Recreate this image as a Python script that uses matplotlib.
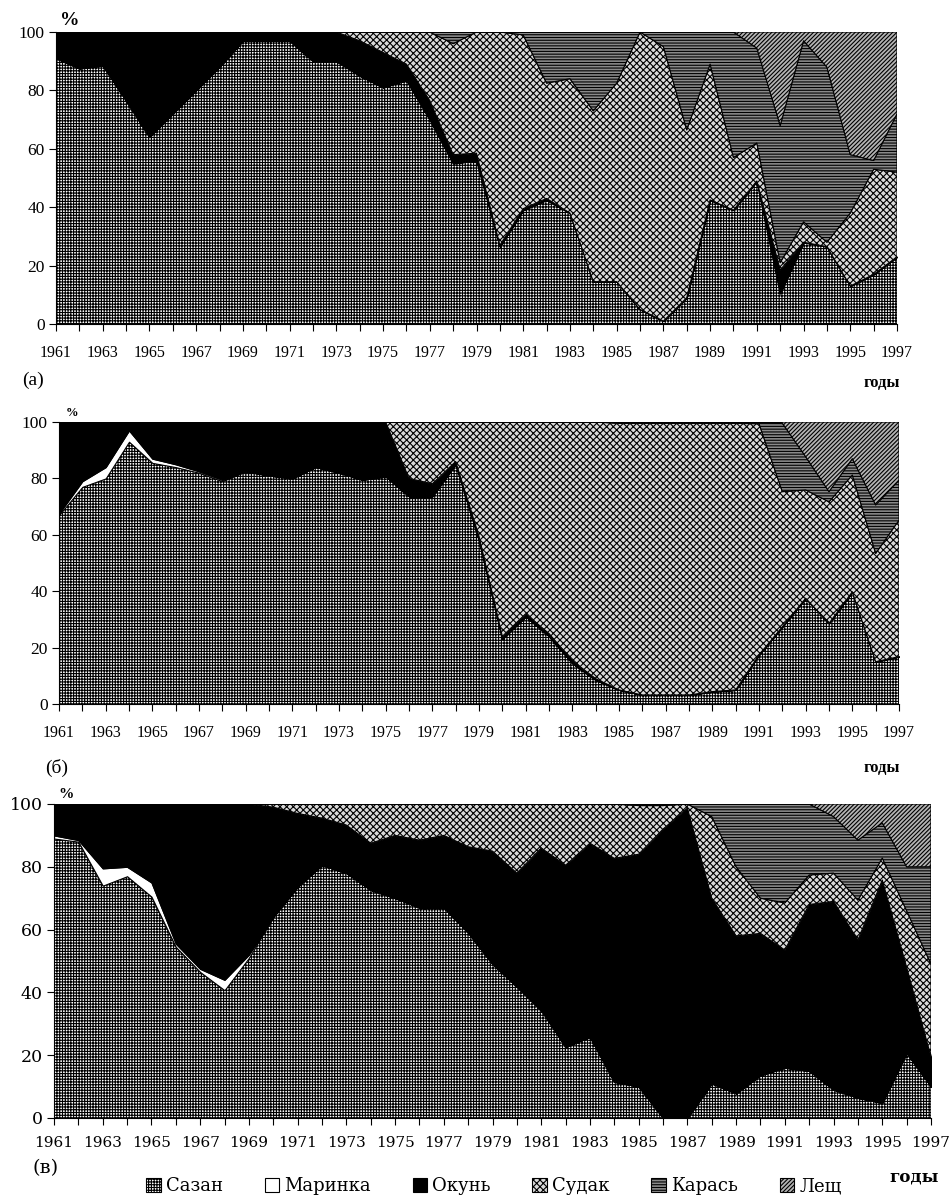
import numpy as np
import matplotlib
matplotlib.use("Agg")
from matplotlib import pyplot as plt

plt.rcParams['hatch.linewidth'] = 0.8

years = np.arange(1961, 1998)
species = ["Сазан", "Маринка", "Окунь", "Судак", "Карась", "Лещ"]

# panel (a), % of catch
sazan_a = [91, 87.5, 88.5, 76.5, 64, 72, 80, 88, 97, 97, 97, 90, 90, 85, 81, 83.5, 70, 55, 56,
           26.5, 39, 42.5, 38, 14.5, 14.5, 5, 1, 9, 42.5, 39, 49, 10.5, 28, 26.5, 13, 17, 23]
marinka_a = [0] * 37
okun_a = [9, 12.5, 11.5, 23.5, 36, 28, 20, 12, 3, 3, 3, 10, 10, 12, 12, 5.5, 6.5, 3, 2.5,
          0.5, 0.5, 0.5, 0, 0, 0, 0, 0, 0, 0, 0, 0, 8, 0, 0, 0, 0, 0]
sudak_a = [0, 0, 0, 0, 0, 0, 0, 0, 0, 0, 0, 0, 0, 3, 7, 11, 23.5, 38, 41.5,
           73, 59.5, 39.5, 46, 58.5, 68, 95, 94, 57.5, 46.5, 18, 13, 2.5, 7, 1.5, 25, 36, 29]
karas_a = [0, 0, 0, 0, 0, 0, 0, 0, 0, 0, 0, 0, 0, 0, 0, 0, 0, 4, 0,
           0, 1, 17.5, 16, 27, 17.5, 0, 5, 33.5, 11, 43, 32.5, 47, 62, 60, 20, 3, 20]
lesch_a = [0] * 30 + [5.5, 32, 3, 12, 42, 44, 28]

# panel (б)
sazan_b = [67, 77, 80, 93, 85.5, 84, 82, 79, 82.5, 81, 80, 84, 82, 79.5, 80.7, 73.6, 73.6, 85, 58,
           23, 31, 24, 14.4, 8.5, 5, 3.2, 3.2, 3.2, 4.4, 5, 17.4, 27.4, 37.5, 28.6, 39.8, 15, 16.8]
marinka_b = [0.5, 2, 4, 4, 1.5, 1, 0.5, 0.5] + [0] * 29
okun_b = [32.5, 21, 16, 3, 13, 15, 17.5, 20.5, 17.5, 19, 20, 16, 18, 20.5, 19.3, 6.4, 4.5, 1, 1.5,
          1, 1, 1, 1, 0.5, 0, 0, 0, 0, 0, 0, 0, 0, 0, 0, 0, 0, 0]
sudak_b = [0] * 15 + [20, 21.9, 14, 40.5,
           76, 68, 75, 84.6, 91, 94.5, 96.3, 96.3, 96.3, 95.1, 94.5, 82, 47.9, 38.4, 43.1, 41.4, 38.4, 48.4]
karas_b = [0] * 24 + [0.5, 0.5, 0.5, 0.5, 0.5, 0.5, 0.6, 24.3, 11.8, 3.6, 5.8, 17.2, 14.2]
lesch_b = [0] * 31 + [0.4, 12.3, 24.7, 13, 29.4, 20.6]

# panel (в)
sazan_c = [89, 88, 74, 77, 70.5, 54.5, 46.5, 40.7, 51, 64, 73.6, 80.5, 78, 72.6, 70, 67, 67, 59, 49,
           41.8, 34.3, 22.6, 25.8, 11.5, 10, 0, 0, 11, 7.8, 13.6, 16, 15, 9, 6.4, 4.8, 20.7, 10]
marinka_c = [1, 0.5, 5.5, 3, 4.5, 1, 1, 3.3, 1] + [0] * 28
okun_c = [10, 11.5, 20.5, 20, 25, 44.5, 52.5, 56, 48, 35, 23.4, 15, 15.3, 14.9, 20, 21.5, 23, 27.4, 36,
          36.2, 51.7, 57.9, 61.7, 71.2, 74, 92, 98.7, 59, 50.2, 45.2, 37.5, 53, 60, 50.3, 71, 27.3, 9.5]
sudak_c = [0] * 9 + [1, 3, 4.5, 6.7, 12.5, 10, 11.5, 10, 13.6, 15,
                     22, 14, 19.5, 12.5, 17.3, 15.5, 7.5, 1.3, 26, 22, 11.2, 15, 9.4, 9, 12.7, 7, 18, 29.5]
karas_c = [0] * 24 + [0.5, 0.5, 0, 4, 20, 30, 31.5, 22.6, 18, 19.1, 11.2, 14, 31]
lesch_c = [0] * 32 + [4, 11.5, 6, 20, 20]

panels = [
    ([sazan_a, marinka_a, okun_a, sudak_a, karas_a, lesch_a], "(a)"),
    ([sazan_b, marinka_b, okun_b, sudak_b, karas_b, lesch_b], "(б)"),
    ([sazan_c, marinka_c, okun_c, sudak_c, karas_c, lesch_c], "(в)"),
]

face = ["white", "white", "black", "#dadada", "#8a8a8a", "#b4b4b4"]
hatches = ["++++++", None, None, "xxxxx", "------", "////////"]

W, H = 953, 1197
fig = plt.figure(figsize=(W / 100, H / 100), dpi=100)

# axes boxes in pixels: left, right, top(100), bottom(0)
boxes = [(56, 897, 32, 324), (59, 899, 422, 704), (54, 931, 804, 1118)]
fonts = ["Liberation Serif", "Liberation Serif", "DejaVu Serif"]
xsizes = [11.5, 11.5, 11]

handles = None
for i, ((series, tag), box, fnt, xs) in enumerate(zip(panels, boxes, fonts, xsizes)):
    l, r, t, b = box
    ax = fig.add_axes([l / W, 1 - b / H, (r - l) / W, (b - t) / H])
    polys = ax.stackplot(years, *series, colors=face, hatch=hatches,
                         edgecolor="black", linewidth=0.8, labels=species)
    if handles is None:
        handles = polys
    ax.set_xlim(1961, 1997)
    ax.set_ylim(0, 100)
    ax.set_yticks(range(0, 101, 20))
    ax.set_xticks(years)
    ax.set_xticklabels([str(y) if (y - 1961) % 2 == 0 else "" for y in years])
    for lab in ax.get_xticklabels():
        lab.set_fontfamily(fnt)
        lab.set_fontsize(xs)
    for lab in ax.get_yticklabels():
        lab.set_fontfamily(fnt)
        lab.set_fontsize(12.5)
    ax.tick_params(axis="x", length=5, width=0.8, pad=10 if i < 2 else 8)
    ax.tick_params(axis="y", length=5, width=0.8, pad=3)
    ax.spines["top"].set_visible(False)
    ax.spines["right"].set_visible(False)
    ax.set_axisbelow(False)

    pct_size = [14, 9, 11][i]
    ax.text(0.005 if i != 1 else 0.008, 1.01, "%", transform=ax.transAxes, fontsize=pct_size,
            fontweight="bold", family="Liberation Serif", ha="left", va="bottom")

label_pos = [(22, 380, 882, 383), (45, 768, 882, 768), (33, 1168, 914, 1177)]
for (series, tag), (lx, ly, gx, gy), fnt in zip(panels, label_pos, fonts):
    fig.text(lx / W, 1 - ly / H, tag, fontsize=14, family=fnt, ha="left", va="center")
    fig.text(gx / W, 1 - gy / H, "годы", fontsize=12, family=fnt, fontweight="bold",
             ha="center", va="center")

leg = fig.legend(handles, species, loc="center", bbox_to_anchor=(494 / W, 1 - 1186 / H),
                 ncol=6, frameon=False, handlelength=0.8, handleheight=0.8,
                 handletextpad=0.3, columnspacing=2.3,
                 prop={"family": "DejaVu Serif", "size": 13})

fig.savefig("out.png", dpi=100)
